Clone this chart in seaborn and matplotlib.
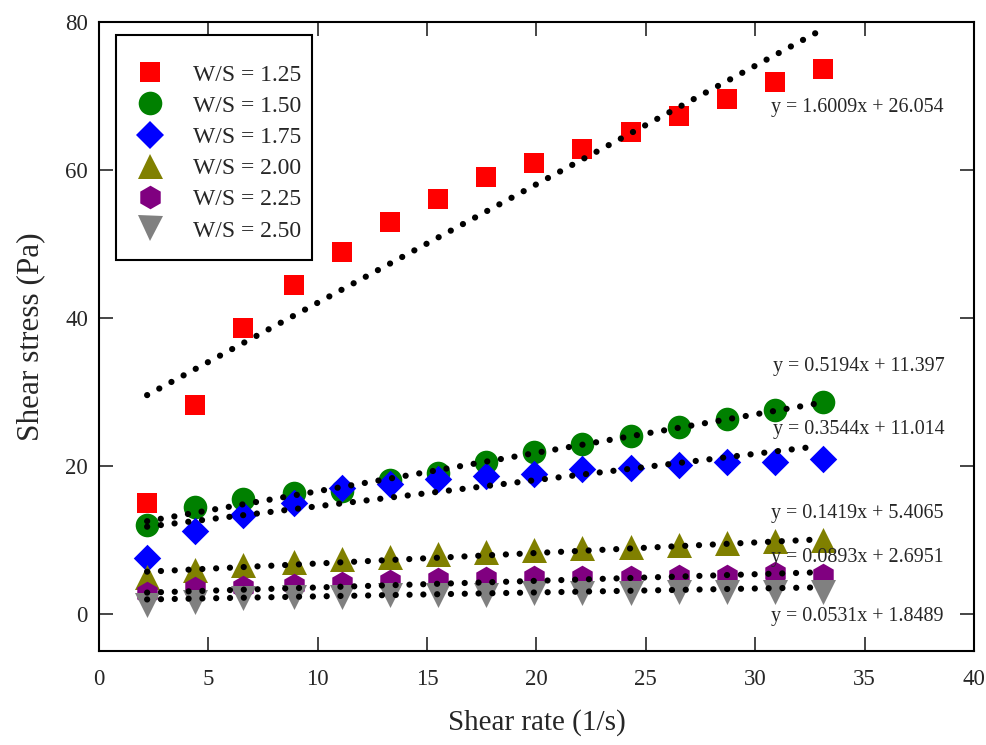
import numpy as np
import pandas as pd
import matplotlib
matplotlib.use("Agg")
import matplotlib.pyplot as plt
import seaborn as sns
from matplotlib.lines import Line2D
from matplotlib.patches import Rectangle

# shear rate (1/s)
shear_rate = [2.2, 4.4, 6.6, 8.9, 11.1, 13.3, 15.5, 17.7, 19.9, 22.1, 24.3, 26.5, 28.7, 30.9, 33.1]

# shear stress (Pa) per W/S ratio
ws_labels = ["W/S = 1.25", "W/S = 1.50", "W/S = 1.75", "W/S = 2.00", "W/S = 2.25", "W/S = 2.50"]
ws_125 = [15.0, 28.2, 38.6, 44.5, 48.9, 53.0, 56.1, 59.1, 61.0, 62.8, 65.1, 67.3, 69.6, 71.9, 73.6]
ws_150 = [12.0, 14.5, 15.5, 16.3, 16.6, 18.1, 19.1, 20.5, 21.9, 23.0, 24.0, 25.3, 26.3, 27.6, 28.6]
ws_175 = [7.6, 11.2, 13.4, 15.0, 17.0, 17.6, 18.2, 18.6, 18.9, 19.6, 19.7, 20.1, 20.5, 20.5, 20.9]
ws_200 = [5.0, 5.9, 6.6, 7.0, 7.4, 7.7, 8.1, 8.4, 8.7, 8.9, 9.1, 9.3, 9.6, 9.8, 10.0]
ws_225 = [2.8, 3.5, 3.7, 3.9, 4.2, 4.4, 4.7, 4.8, 5.0, 5.0, 5.0, 5.2, 5.2, 5.5, 5.3]
ws_250 = [1.2, 1.6, 2.1, 2.3, 2.3, 2.5, 2.5, 2.5, 2.8, 2.8, 2.8, 3.0, 3.0, 3.0, 3.0]

# linear trendlines (slope, intercept) as printed on the chart
slopes = [1.6009, 0.5194, 0.3544, 0.1419, 0.0893, 0.0531]
intercepts = [26.054, 11.397, 11.014, 5.4065, 2.6951, 1.8489]
eq_labels = ["y = 1.6009x + 26.054", "y = 0.5194x + 11.397", "y = 0.3544x + 11.014",
             "y = 0.1419x + 5.4065", "y = 0.0893x + 2.6951", "y = 0.0531x + 1.8489"]
eq_pos = [(30.7, 68.5), (30.8, 33.4), (30.8, 24.9), (30.7, 13.6), (30.7, 7.7), (30.7, -0.4)]

colors = ["#ff0000", "#008000", "#0000ff", "#808000", "#800080", "#808080"]
markers = ["s", "o", "D", "^", "h", "v"]
msizes = [14, 17, 14, 18, 17, 18]

series = [ws_125, ws_150, ws_175, ws_200, ws_225, ws_250]

sns.set_style("white")
plt.rcParams["font.family"] = ["Liberation Serif", "DejaVu Serif"]

fig = plt.figure(figsize=(9.87, 7.45), dpi=100)
ax = fig.add_axes([0.1003, 0.1262, 0.8865, 0.8443])

for lab, vals, c, m, ms in zip(ws_labels, series, colors, markers, msizes):
    df = pd.DataFrame({"rate": shear_rate, "stress": vals})
    sns.scatterplot(data=df, x="rate", y="stress", ax=ax, color=c, marker=m,
                    s=ms ** 2, linewidth=0, zorder=2, legend=False)

x_fit = np.array([shear_rate[0], shear_rate[-1] - 0.3])
for k, b in zip(slopes, intercepts):
    ax.plot(x_fit, k * x_fit + b, color="black", lw=4.5,
            linestyle=(0, (0.01, 2.2)), dash_capstyle="round", zorder=3)

for t, (ex, ey) in zip(eq_labels, eq_pos):
    ax.text(ex, ey, t, fontsize=14.4, va="center", ha="left", zorder=4)

ax.set_xlim(0, 40)
ax.set_ylim(-5, 80)
ax.set_xticks(range(0, 41, 5))
ax.set_yticks(range(0, 81, 20))
ax.tick_params(direction="in", length=10, width=1.2, top=True, right=True,
               bottom=True, left=True, labelsize=16.5, pad=13)
ax.tick_params(axis="y", pad=8)
for sp in ax.spines.values():
    sp.set_linewidth(1.5)
    sp.set_color("black")

ax.set_xlabel("Shear rate (1/s)", fontsize=21, labelpad=14)
ax.set_ylabel("Shear stress (Pa)", fontsize=22.5, labelpad=14)

# legend box
ax.add_patch(Rectangle((0.0194, 0.6216), 0.224, 0.3577, transform=ax.transAxes,
                       facecolor="white", edgecolor="black", linewidth=1.5, zorder=5))
handles = [Line2D([], [], linestyle="none", marker=m, color=c, markersize=ms,
                  markeredgewidth=0)
           for c, m, ms in zip(colors, markers, msizes)]
leg = ax.legend(handles, ws_labels, loc="upper left", bbox_to_anchor=(0.0381, 0.9332),
                borderaxespad=0, fontsize=17, frameon=False,
                handletextpad=1.07, labelspacing=0.41, borderpad=0, handlelength=1.5)
leg.set_zorder(6)

fig.savefig("out.png", dpi=100)
